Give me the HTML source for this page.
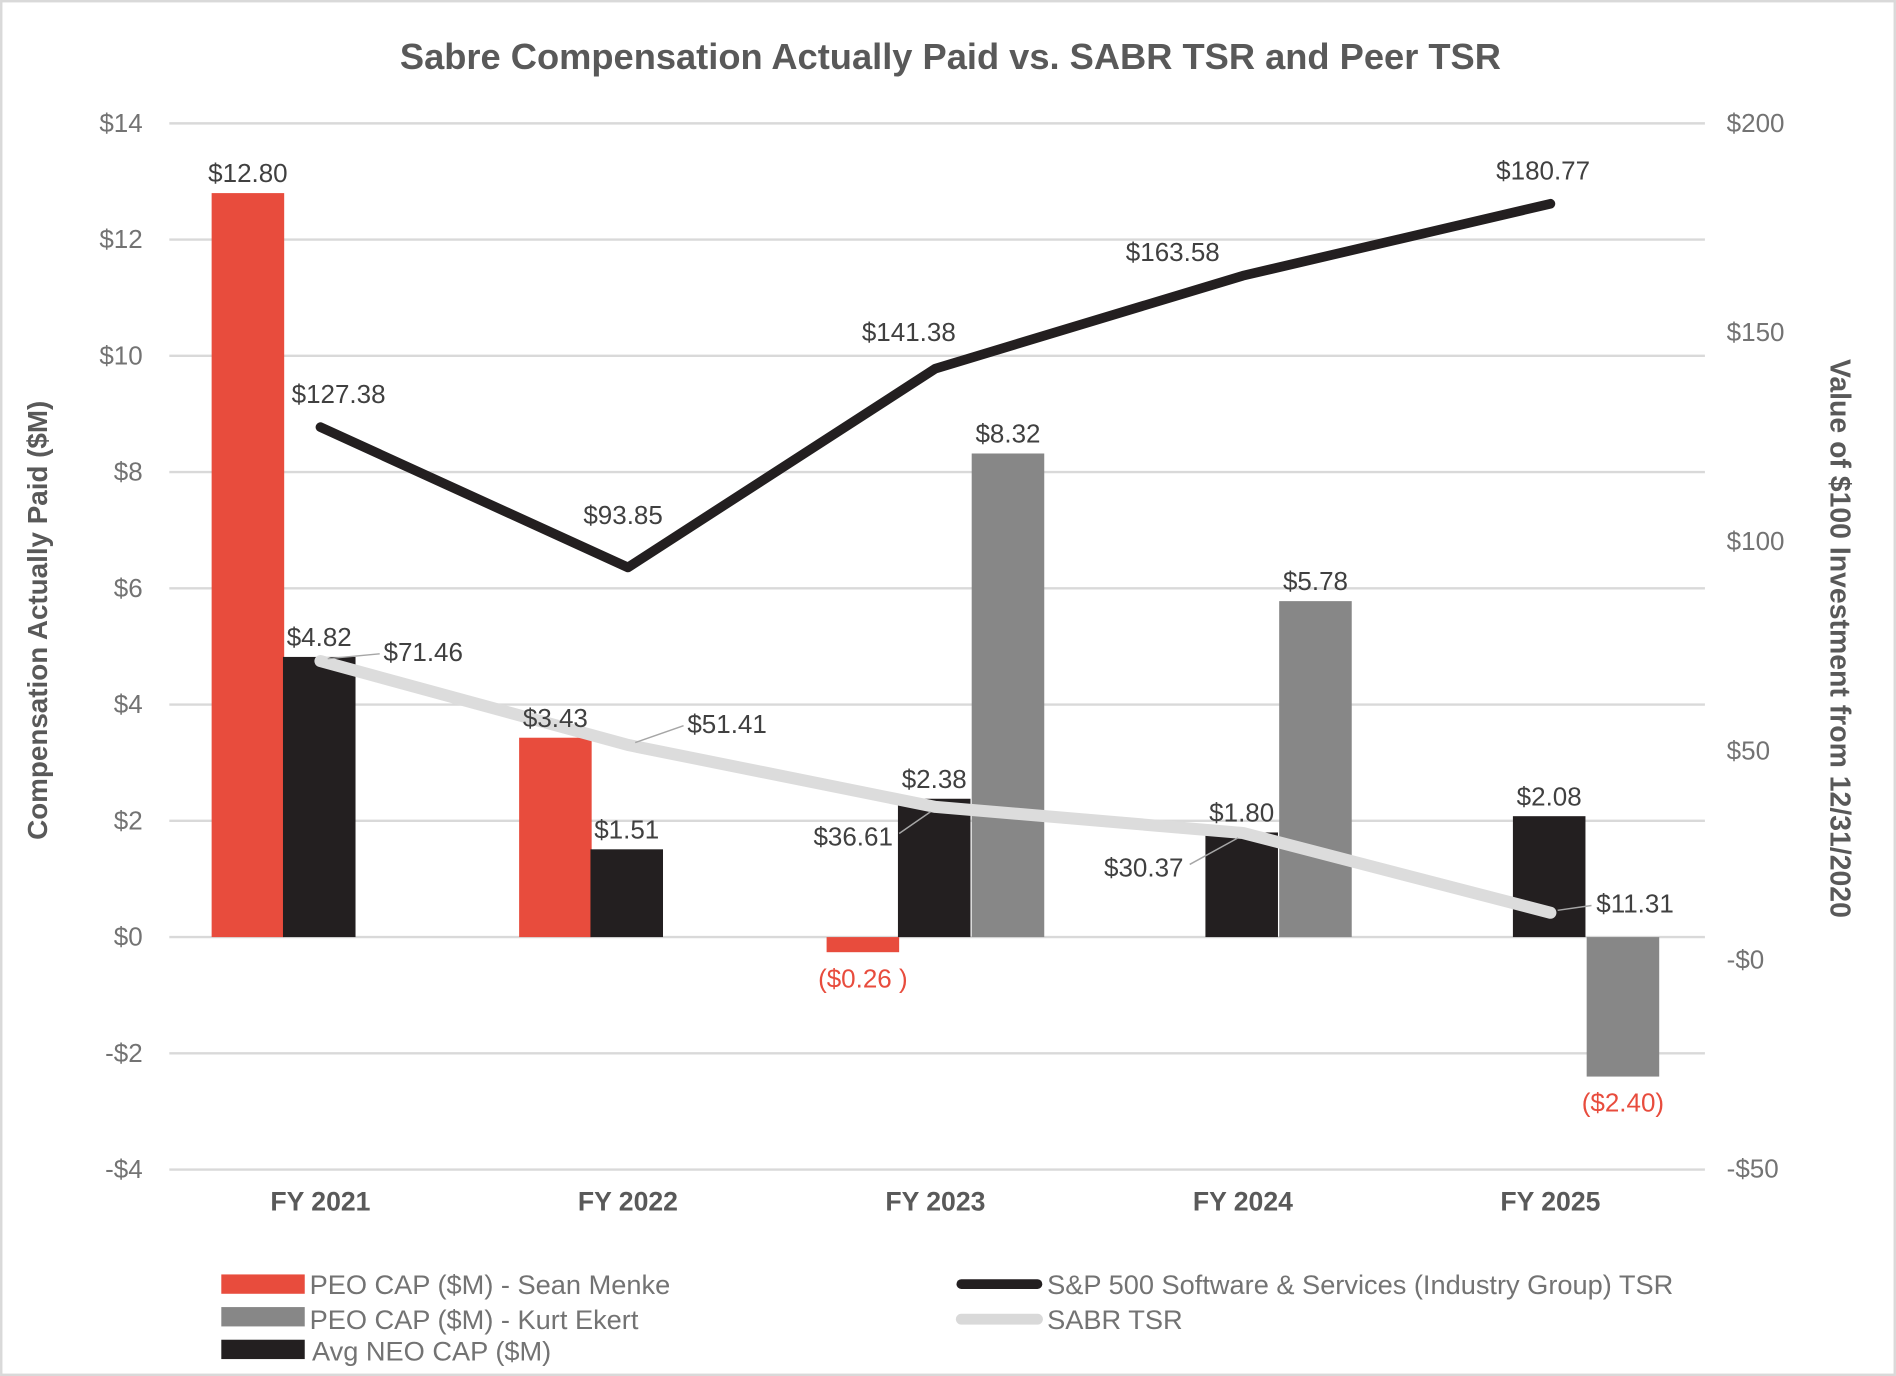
<!DOCTYPE html>
<html><head><meta charset="utf-8"><style>
html,body{margin:0;padding:0;background:#fff}
svg{display:block;font-family:"Liberation Sans",Arial,sans-serif}
</style></head><body>
<svg id="chart" width="1896" height="1376" viewBox="0 0 1568 1138" xmlns="http://www.w3.org/2000/svg">
<rect x="1" y="1" width="1566" height="1136" fill="#fff" stroke="#d9d9d9" stroke-width="2"/>
<text x="786" y="57" text-anchor="middle" font-size="30" font-weight="bold" fill="#595959">Sabre Compensation Actually Paid vs. SABR TSR and Peer TSR</text>
<g id="grid"></g><g id="bars"></g><g id="lines"></g><g id="labels"></g>
<text transform="translate(39,513) rotate(-90)" text-anchor="middle" font-size="23" font-weight="bold" fill="#595959">Compensation Actually Paid ($M)</text>
<text transform="translate(1514,528) rotate(90)" text-anchor="middle" font-size="23.5" font-weight="bold" fill="#595959">Value of $100 Investment from 12/31/2020</text>
<g font-size="22.5" fill="#737373">
<rect x="183" y="1054" width="69" height="16" fill="#e84c3d"/>
<text x="256" y="1070">PEO CAP ($M) - Sean Menke</text>
<rect x="183" y="1081" width="69" height="16" fill="#878787"/>
<text x="256" y="1099">PEO CAP ($M) - Kurt Ekert</text>
<rect x="183" y="1108" width="69" height="16" fill="#231f20"/>
<text x="258" y="1125">Avg NEO CAP ($M)</text>
<line x1="795" y1="1062" x2="858" y2="1062" stroke="#231f20" stroke-width="8" stroke-linecap="round"/>
<text x="866" y="1070">S&amp;P 500 Software &amp; Services (Industry Group) TSR</text>
<line x1="795" y1="1091" x2="858" y2="1091" stroke="#d9d9d9" stroke-width="9" stroke-linecap="round"/>
<text x="866" y="1099">SABR TSR</text>
</g>
</svg>
<script>
const categories=["FY 2021","FY 2022","FY 2023","FY 2024","FY 2025"];
const menke=[12.80,3.43,-0.26,null,null];
const ekert=[null,null,8.32,5.78,-2.40];
const neo=[4.82,1.51,2.38,1.80,2.08];
const peerTSR=[127.38,93.85,141.38,163.58,180.77];
const sabrTSR=[71.46,51.41,36.61,30.37,11.31];
const leftTicks=[14,12,10,8,6,4,2,0,-2,-4];
const rightTicks=[200,150,100,50,0,-50];
const NS="http://www.w3.org/2000/svg";
const yL=v=>775-v*48.07;
const yR=v=>794-v*3.46;
const xC=i=>265+i*254.3;
const BW=60;
function el(p,t,a){const e=document.createElementNS(NS,t);for(const k in a)e.setAttribute(k,a[k]);document.getElementById(p).appendChild(e);return e;}
leftTicks.forEach(t=>{
 const g=el('grid','line',{x1:140,x2:1410,y1:yL(t),y2:yL(t),stroke:'#d9d9d9','stroke-width':2});
 
 
 const tx=el('grid','text',{x:118,y:yL(t)+7,'text-anchor':'end','font-size':21.5,fill:'#737373'});
 tx.textContent=(t<0?'-$'+(-t):'$'+t);
 
 
});
rightTicks.forEach(t=>{
 const tx=el('grid','text',{x:1428,y:yR(t)+7,'font-size':21.5,fill:'#737373'});
 tx.textContent=(t<0?'-$'+(-t):(t===0?'-$0':'$'+t));
 
 
});
categories.forEach((c,i)=>{
 const tx=el('grid','text',{x:xC(i),y:1001,'text-anchor':'middle','font-size':22,'font-weight':'bold',fill:'#595959'});
 tx.textContent=c;
 
 
});
function fmt(v){return v<0?'($'+(-v).toFixed(2)+')':'$'+v.toFixed(2);}
function bars(arr,off,col,name){
 arr.forEach((v,i)=>{
  if(v===null)return;
  const x=xC(i)+off-BW/2,y0=yL(0),y1=yL(v);
  const r=el('bars','rect',{x:x,y:Math.min(y0,y1),width:BW,height:Math.abs(y1-y0),fill:col});
  
  
  const t=el('labels','text',{x:x+BW/2,y:v>=0?y1-9:y1+29,'text-anchor':'middle','font-size':21.5,fill:v<0?'#e84c3d':'#404040'});
  t.textContent=v<0?(name==='bar-menke'?'($0.26 )':fmt(v)):fmt(v);
  
  
 });
}
bars(menke,-60,'#e84c3d','bar-menke');
bars(neo,-1,'#231f20','bar-neo');
bars(ekert,60,'#878787','bar-ekert');
function line(arr,col,w,name){
 const p=el('lines','polyline',{points:arr.map((v,i)=>xC(i)+','+yR(v)).join(' '),fill:'none',stroke:col,'stroke-width':w,'stroke-linejoin':'round','stroke-linecap':'round'});
 
 
}
line(sabrTSR,'#dcdcdc',10,'line-sabr-tsr');
line(peerTSR,'#231f20',8,'line-peer-tsr');
const peerOff=[[15,-20],[-4,-36],[-22,-23],[-58,-12],[-6,-20]];
peerTSR.forEach((v,i)=>{
 const t=el('labels','text',{x:xC(i)+peerOff[i][0],y:yR(v)+peerOff[i][1],'text-anchor':'middle','font-size':21.5,fill:'#404040'});
 t.textContent=fmt(v);
 
 
});
const sabrOff=[[85,0],[82,-10],[-68,32],[-82,36],[70,0]];
sabrTSR.forEach((v,i)=>{
 const x=xC(i),y=yR(v),dx=sabrOff[i][0],dy=sabrOff[i][1];
 const l=el('labels','line',{x1:x+(dx>0?6:-4),y1:y+(dy>0?4:-2),x2:x+(dx>0?dx-36:dx+38),y2:y+(dy>0?dy-10:dy-6),stroke:'#a6a6a6','stroke-width':1.2});
 
 
 const t=el('labels','text',{x:x+dx,y:y+dy,'text-anchor':'middle','font-size':21.5,fill:'#404040'});
 t.textContent=fmt(v);
 
 
});
</script>
</body></html>
